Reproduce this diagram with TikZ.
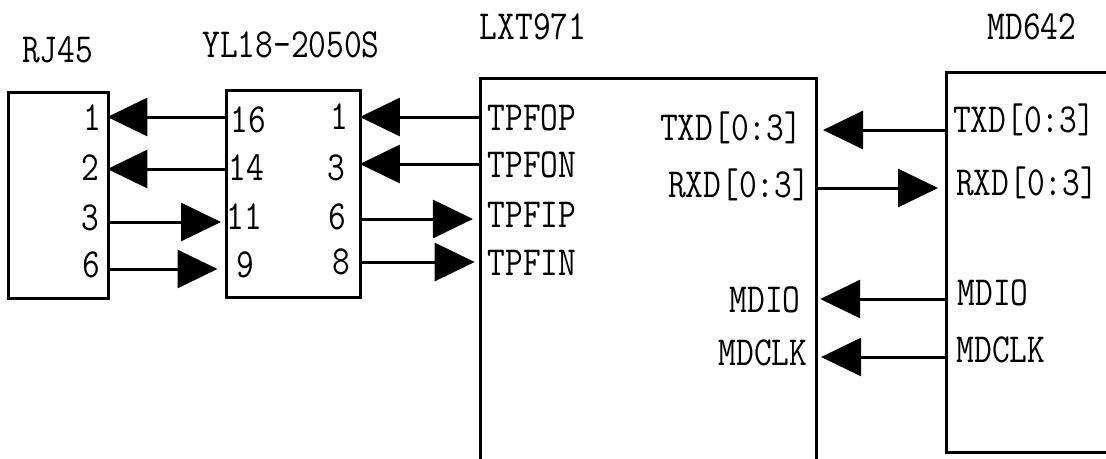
\documentclass[tikz,border=0pt]{standalone}
\usepackage{tikz}
\usetikzlibrary{arrows.meta}
\tikzset{
  chip-box/.style={draw=black, line width=1.7pt, inner sep=0pt},
  pin-label/.style={font=\fontsize{19.6}{21}\selectfont\ttfamily, yscale=1.2, transform shape,
    inner sep=0pt, align=center},
  pin-arrow/.style={-{Triangle[length=0.8cm, width=0.76cm]}, line width=1.7pt, draw=black}
}
\begin{document}
\begin{tikzpicture}[x=0.02cm, y=-0.02cm]
\useasboundingbox (0,0) rectangle (1106,458);
% chips
\node[chip-box, minimum width=2cm, minimum height=4.14cm] (rj) at (58.5,195.5) {};
\node[chip-box, minimum width=2.7cm, minimum height=4.16cm] (yl) at (293.5,194) {};
\node[chip-box, minimum width=6.74cm, minimum height=8.04cm] (lxt) at (648.5,279) {};
\node[chip-box, minimum width=3.68cm, minimum height=7.62cm] (md) at (1038,262.5) {};
% titles
\node[pin-label] (rjtitle) at (57.5,50) {RJ45};
\node[pin-label] (yltitle) at (291,45) {YL18-2050S};
\node[pin-label] (lxttitle) at (533,27) {LXT971};
\node[pin-label] (mdtitle) at (1032,27) {MD642};
% pin numbers
\node[pin-label] (rj1) at (92,118) {1};
\node[pin-label] (rj2) at (90,168) {2};
\node[pin-label] (rj3) at (90,218) {3};
\node[pin-label] (rj6) at (91,265) {6};
\node[pin-label] (yl16) at (248,120) {16};
\node[pin-label] (yl14) at (246,168) {14};
\node[pin-label] (yl11) at (244,217) {11};
\node[pin-label] (yl9) at (245,265) {9};
\node[pin-label] (yl1) at (339,117) {1};
\node[pin-label] (yl3) at (336,168) {3};
\node[pin-label] (yl6) at (337,217) {6};
\node[pin-label] (yl8) at (341,262) {8};
\node[pin-label] (tpfop) at (532,118) {TPFOP};
\node[pin-label] (tpfon) at (532,165) {TPFON};
\node[pin-label] (tpfip) at (532,215) {TPFIP};
\node[pin-label] (tpfin) at (532,263) {TPFIN};
\node[pin-label] (lxttxd) at (731,128) {TXD[0:3]};
\node[pin-label] (lxtrxd) at (739,185) {RXD[0:3]};
\node[pin-label] (lxtmdio) at (765,300) {MDIO};
\node[pin-label] (lxtmdclk) at (763,353) {MDCLK};
\node[pin-label] (mdtxd) at (1024,120) {TXD[0:3]};
\node[pin-label] (mdrxd) at (1027,183) {RXD[0:3]};
\node[pin-label] (mdmdio) at (993,293) {MDIO};
\node[pin-label] (mdmdclk) at (1001,350) {MDCLK};
% arrows
\draw[pin-arrow, shorten >=-1.5pt] (yl.west |- 0,117) -- (rj.east |- 0,117);
\draw[pin-arrow, shorten >=-1.5pt] (yl.west |- 0,169) -- (rj.east |- 0,169);
\draw[pin-arrow, shorten >=2pt] (rj.east |- 0,222) -- (yl.west |- 0,222);
\draw[pin-arrow, shorten >=4pt] (rj.east |- 0,269) -- (yl.west |- 0,269);
\draw[pin-arrow, shorten >=-1.5pt] (lxt.west |- 0,117) -- (yl.east |- 0,117);
\draw[pin-arrow, shorten >=-1.5pt] (lxt.west |- 0,164) -- (yl.east |- 0,164);
\draw[pin-arrow, shorten >=3.2pt] (yl.east |- 0,219) -- (lxt.west |- 0,219);
\draw[pin-arrow, shorten >=2.2pt] (yl.east |- 0,262) -- (lxt.west |- 0,262);
\draw[pin-arrow, shorten >=2.6pt] (md.west |- 0,130) -- (lxt.east |- 0,130);
\draw[pin-arrow, shorten >=3.7pt] (lxt.east |- 0,188) -- (md.west |- 0,188);
\draw[pin-arrow, shorten >=1pt] (md.west |- 0,299) -- (lxt.east |- 0,299);
\draw[pin-arrow, shorten >=1.5pt] (md.west |- 0,357) -- (lxt.east |- 0,357);
\end{tikzpicture}
\end{document}
